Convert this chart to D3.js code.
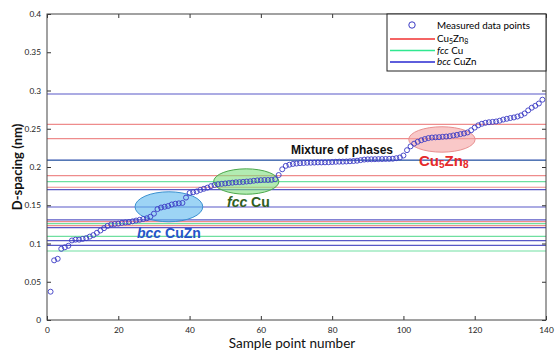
<!DOCTYPE html>
<html>
<head>
<meta charset="utf-8">
<script src="https://cdn.jsdelivr.net/npm/d3@7"></script>
<style>
  html, body { margin: 0; padding: 0; background: #fff; }
  svg { display: block; }
  .tick text { font-family: Lato, "DejaVu Sans", sans-serif; font-size: 8.3px; fill: #222; }
</style>
</head>
<body>
<svg id="chart" width="555" height="352"></svg>
<script>
// ---- data ----
const dSpacing = [
  0.037, 0.078, 0.080, 0.093, 0.095, 0.097, 0.104, 0.105, 0.105, 0.106,
  0.107, 0.109, 0.111, 0.114, 0.117, 0.120, 0.123, 0.125, 0.1255, 0.126,
  0.127, 0.1275, 0.128, 0.129, 0.130, 0.131, 0.132, 0.133, 0.135, 0.139,
  0.145, 0.147, 0.148, 0.149, 0.151, 0.152, 0.1525, 0.153, 0.160, 0.166,
  0.167, 0.168, 0.170, 0.1715, 0.173, 0.175, 0.1765, 0.1775, 0.178, 0.1785,
  0.179, 0.1795, 0.180, 0.1802, 0.1805, 0.181, 0.1813, 0.182, 0.1825, 0.1828,
  0.183, 0.183, 0.1832, 0.184, 0.1895, 0.197, 0.2015, 0.203, 0.204, 0.2045,
  0.205, 0.2052, 0.2055, 0.2056, 0.2058, 0.206, 0.206, 0.2061, 0.2062, 0.2065,
  0.2068, 0.207, 0.207, 0.2072, 0.2075, 0.2078, 0.2082, 0.209, 0.2097, 0.2100,
  0.2101, 0.2102, 0.2103, 0.2104, 0.2105, 0.2106, 0.2108, 0.2115, 0.2125, 0.215,
  0.222, 0.227, 0.2305, 0.233, 0.235, 0.2365, 0.2378, 0.2385, 0.2388, 0.239,
  0.2395, 0.2398, 0.2403, 0.2412, 0.242, 0.243, 0.2438, 0.2452, 0.248, 0.2515,
  0.2545, 0.2565, 0.2578, 0.2585, 0.259, 0.2595, 0.2605, 0.262, 0.263, 0.264,
  0.2648, 0.266, 0.2675, 0.270, 0.274, 0.2775, 0.280, 0.283, 0.288
];
const cu5zn8Lines  = [0.2558, 0.2370, 0.1886, 0.1735, 0.1285, 0.1233];
const fccCuLines   = [0.2087, 0.1808, 0.1260, 0.1092, 0.0902];
const bccCuZnLines = [0.2954, 0.2089, 0.1705, 0.1477, 0.1310, 0.1207, 0.1037, 0.0976];
const xTicks = [0, 20, 40, 60, 80, 100, 120, 140];
const yTicks = [0, 0.05, 0.1, 0.15, 0.2, 0.25, 0.3, 0.35, 0.4];
// phase regions: centre (sample, d) and half-axes (samples, nm)
const regionNames   = ["bcc", "fcc", "cu5zn8"];
const regionCentreX = [34.2, 55.9, 110.8];
const regionCentreY = [0.148, 0.181, 0.236];
const regionRadiusX = [9.5, 9.15, 9.3];
const regionRadiusY = [0.0196, 0.0166, 0.0166];

// ---- drawing ----
const svg = d3.select("#chart");
const L = 47, R = 546, T = 14, B = 320;
const x = d3.scaleLinear().domain([0, 140]).range([L, R]);
const y = d3.scaleLinear().domain([0, 0.4]).range([B, T]);

const colRed = "#ec8080", colGreen = "#5fdc96", colBlue = "#4646c0";

// reference lines
const lineSets = [
  { vals: cu5zn8Lines, col: colRed },
  { vals: fccCuLines, col: colGreen },
  { vals: bccCuZnLines, col: colBlue }
];
lineSets.forEach(s => {
  svg.append("g").selectAll("line").data(s.vals).join("line")
    .attr("x1", x(0)).attr("x2", x(140))
    .attr("y1", d => y(d)).attr("y2", d => y(d))
    .attr("stroke", s.col).attr("stroke-width", 1.2).attr("stroke-opacity", 0.9);
});

// ellipses
const ellFill   = { bcc: "#5bb8ee", fcc: "#7fe07f", cu5zn8: "#f5a3a3" };
const ellStroke = { bcc: "#3a90d0", fcc: "#4ca84c", cu5zn8: "#e89090" };
regionNames.forEach((n, i) => {
  svg.append("ellipse")
    .attr("cx", x(regionCentreX[i])).attr("cy", y(regionCentreY[i]))
    .attr("rx", x(regionRadiusX[i]) - x(0)).attr("ry", y(0) - y(regionRadiusY[i]))
    .attr("fill", ellFill[n]).attr("fill-opacity", 0.6)
    .attr("stroke", ellStroke[n]).attr("stroke-width", 1);
});

// data points
svg.append("g").selectAll("circle").data(dSpacing).join("circle")
  .attr("cx", (d, i) => x(i + 1)).attr("cy", d => y(d))
  .attr("r", 2.5).attr("fill", "none")
  .attr("stroke", "#3a3ac4").attr("stroke-width", 0.9);

// axes
const fmt = d => d === 0 ? "0" : String(+d.toFixed(2));
svg.append("g").attr("transform", `translate(0,${B})`)
  .call(d3.axisBottom(x).tickValues(xTicks).tickSizeInner(-4).tickSizeOuter(0).tickPadding(7).tickFormat(d3.format("d")));
svg.append("g").attr("transform", `translate(0,${T})`)
  .call(d3.axisTop(x).tickValues(xTicks).tickSizeInner(-4).tickSizeOuter(0).tickFormat(""));
svg.append("g").attr("transform", `translate(${L},0)`)
  .call(d3.axisLeft(y).tickValues(yTicks).tickSizeInner(-4).tickSizeOuter(0).tickPadding(6).tickFormat(fmt));
svg.append("g").attr("transform", `translate(${R},0)`)
  .call(d3.axisRight(y).tickValues(yTicks).tickSizeInner(-4).tickSizeOuter(0).tickFormat(""));
svg.selectAll(".domain").remove();
svg.selectAll(".tick line").attr("stroke", "#333");
svg.append("rect").attr("x", L).attr("y", T).attr("width", R - L).attr("height", B - T)
  .attr("fill", "none").attr("stroke", "#444").attr("stroke-width", 1);

// axis titles
svg.append("text").attr("x", 292).attr("y", 348).attr("text-anchor", "middle")
  .attr("font-family", "Lato, sans-serif").attr("font-size", 13.5).attr("fill", "#111")
  .text("Sample point number");
svg.append("text").attr("transform", `translate(22,${(T + B) / 2}) rotate(-90)`)
  .attr("text-anchor", "middle")
  .attr("font-family", "Lato, sans-serif").attr("font-weight", "bold").attr("font-size", 13).attr("fill", "#111")
  .text("D-spacing (nm)");

// annotations
const ann = "Liberation Sans, Arial, sans-serif";
const t1 = svg.append("text").attr("x", 137).attr("y", 238)
  .attr("font-family", ann).attr("font-weight", "bold").attr("font-size", 14).attr("fill", "#2454c8");
t1.append("tspan").attr("font-style", "italic").text("bcc");
t1.append("tspan").text(" CuZn");
const t2 = svg.append("text").attr("x", 227).attr("y", 207)
  .attr("font-family", ann).attr("font-weight", "bold").attr("font-size", 14).attr("fill", "#2f5e1e");
t2.append("tspan").attr("font-style", "italic").text("fcc");
t2.append("tspan").text(" Cu");
svg.append("text").attr("x", 291).attr("y", 154)
  .attr("font-family", ann).attr("font-weight", "bold").attr("font-size", 12).attr("fill", "#111")
  .text("Mixture of phases");
const t4 = svg.append("text").attr("x", 419).attr("y", 166)
  .attr("font-family", ann).attr("font-weight", "bold").attr("font-size", 15).attr("fill", "#e52a2a");
t4.append("tspan").text("Cu");
t4.append("tspan").attr("font-size", 10).attr("dy", 2).text("5");
t4.append("tspan").attr("dy", -2).text("Zn");
t4.append("tspan").attr("font-size", 10).attr("dy", 2).text("8");

// legend
const lg = svg.append("g");
lg.append("rect").attr("x", 387).attr("y", T).attr("width", R - 387).attr("height", 57)
  .attr("fill", "#fff").attr("stroke", "#222").attr("stroke-width", 1);
const lf = "Lato, sans-serif";
lg.append("circle").attr("cx", 412).attr("cy", 25).attr("r", 3.2)
  .attr("fill", "none").attr("stroke", "#3a3ac4").attr("stroke-width", 1);
lg.append("text").attr("x", 437).attr("y", 28.5).attr("font-family", lf).attr("font-size", 9.8).text("Measured data points");
const legRows = [
  { col: "#f03030", y: 39, parts: [["Cu", ""], ["5", "sub"], ["Zn", ""], ["8", "sub"]] },
  { col: "#30e890", y: 50.5, parts: [["fcc", "i"], [" Cu", ""]] },
  { col: "#2828d0", y: 62, parts: [["bcc", "i"], [" CuZn", ""]] }
];
legRows.forEach(r => {
  lg.append("line").attr("x1", 390).attr("x2", 435).attr("y1", r.y).attr("y2", r.y)
    .attr("stroke", r.col).attr("stroke-width", 1.6);
  const t = lg.append("text").attr("x", 437).attr("y", r.y + 3.4).attr("font-family", lf).attr("font-size", 9.8);
  let shifted = false;
  r.parts.forEach(p => {
    const ts = t.append("tspan").text(p[0]);
    if (p[1] === "i") ts.attr("font-style", "italic");
    if (p[1] === "sub") { ts.attr("font-size", 7).attr("dy", 1.5); shifted = true; }
    else if (shifted) { ts.attr("dy", -1.5); shifted = false; }
  });
});
</script>
</body>
</html>
